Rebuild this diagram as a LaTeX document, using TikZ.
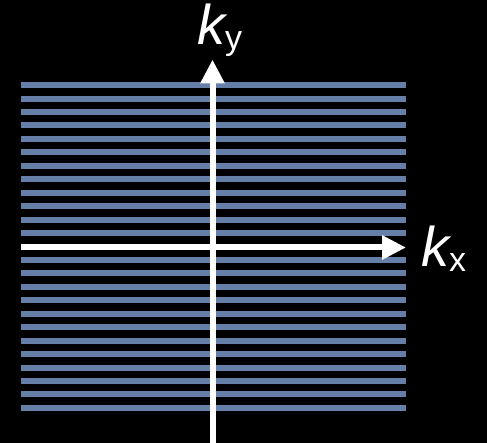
\documentclass[tikz,border=0pt]{standalone}
\usepackage{fontspec}
\setmainfont{Liberation Sans}
\definecolor{StripeBlue}{HTML}{657FA9}
\usepackage{tikz}
\usetikzlibrary{arrows.meta,positioning}

\begin{document}
\begin{tikzpicture}[x=1pt,y=1pt,every node/.style={inner sep=0pt,font=\fontsize{56}{58}\selectfont},
    axis/.style={-{Triangle[length=24pt,width=23pt]},white,line width=6pt},
    stripe/.style={StripeBlue,line width=6pt}]
      \fill[black] (0,0) rectangle (487,443);
      \useasboundingbox (0,0) rectangle (487,443);
      \foreach \n in {-12,...,-1,1,2,...,12}{\draw[stripe] (21,196.5+13.45*\n)--(406,196.5+13.45*\n);}
      \coordinate (xl) at (21,195.5);
      \coordinate (xr) at (406,195.5);
      \coordinate (yb) at (212.5,0);
      \coordinate (yt) at (212.5,383.5);
      \draw[axis] (xl)--(xr);
      \draw[axis] (yb)--(yt);
      \node[anchor=base west,text=white] (kx) at (421,176) {\itshape k\upshape\raisebox{-5pt}{\fontsize{34}{36}\selectfont x}};
      \node[anchor=base west,text=white] (ky) at (197,398) {\itshape k\upshape\raisebox{-5pt}{\fontsize{34}{36}\selectfont y}};
    \end{tikzpicture}
\end{document}
